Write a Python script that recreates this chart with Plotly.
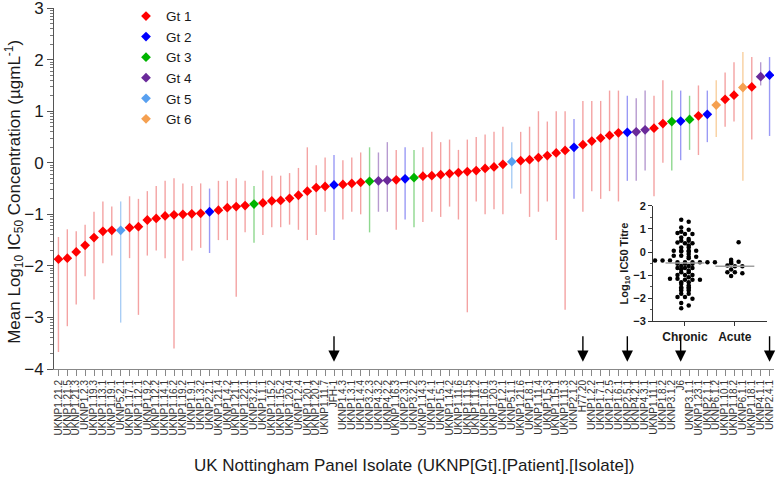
import plotly.graph_objects as go
import numpy as np

# ---------------- data ----------------
isolates = [
    "UKNP1.21.2", "UKNP1.21.5", "UKNP1.21.3", "UKNP1.2.3", "UKNP1.19.3", "UKNP1.13.1", "UKNP1.19.1",
    "UKNP5.2.1", "UKNP1.17.1", "UKNP1.12.1", "UKNP1.9.2", "UKNP1.12.2", "UKNP1.14.1", "UKNP1.16.2",
    "UKNP1.19.2", "UKNP1.9.1", "UKNP1.3.2", "UKNP2.2.1", "UKNP1.21.4", "UKNP1.4.2", "UKNP1.21.1",
    "UKNP1.22.1", "UKNP3.2.1", "UKNP1.1.1", "UKNP1.15.2", "UKNP1.15.2", "UKNP1.20.4", "UKNP1.2.4",
    "UKNP1.20.1", "UKNP1.20.2", "UKNP1.11.7", "JFH-1", "UKNP1.4.3", "UKNP1.3.1", "UKNP1.4.4",
    "UKNP3.2.3", "UKNP4.3.2", "UKNP4.2.2", "UKNP1.16.3", "UKNP2.3.1", "UKNP3.2.2", "UKNP1.14.3",
    "UKNP1.4.1", "UKNP1.5.1", "UKNP1.14.2", "UKNP1.11.6", "UKNP1.11.5", "UKNP1.11.2", "UKNP1.16.1",
    "UKNP1.20.3", "UKNP1.2.1", "UKNP5.1.1", "UKNP1.21.6", "UKNP1.8.1", "UKNP1.11.4", "UKNP1.5.3",
    "UKNP1.15.1", "UKNP1.11.3", "UKNP2.1.2", "H77.20", "UKNP1.2.2", "UKNP1.7.1", "UKNP1.2.5",
    "UKNP1.6.1", "UKNP2.5.1", "UKNP4.2.1", "UKNP4.3.1", "UKNP1.11.1", "UKNP1.8.2", "UKNP3.1.2",
    "J6", "UKNP3.1.1", "UKNP1.23.1", "UKNP2.1.1", "UKNP6.1.2", "UKNP1.10.1", "UKNP1.18.2",
    "UKNP6.1.1", "UKNP1.18.1", "UKNP4.1.1", "UKNP2.4.1",
]
genotype = [
    1, 1, 1, 1, 1, 1, 1, 5, 1, 1, 1, 1, 1, 1, 1, 1, 1, 2, 1, 1, 1, 1, 3, 1, 1, 1, 1, 1, 1, 1, 1,
    2, 1, 1, 1, 3, 4, 4, 1, 2, 3, 1, 1, 1, 1, 1, 1, 1, 1, 1, 1, 5, 1, 1, 1, 1, 1, 1, 2, 1, 1, 1,
    1, 1, 2, 4, 4, 1, 1, 3, 2, 3, 1, 2, 6, 1, 1, 6, 1, 4, 2,
]
mean_log_ic50 = [
    -1.87, -1.85, -1.73, -1.60, -1.45, -1.33, -1.31, -1.31, -1.26, -1.24, -1.11, -1.08, -1.03, -1.01,
    -1.00, -0.99, -0.98, -0.95, -0.92, -0.87, -0.85, -0.83, -0.80, -0.78, -0.74, -0.73, -0.69, -0.63,
    -0.55, -0.48, -0.46, -0.43, -0.42, -0.40, -0.38, -0.36, -0.35, -0.34, -0.33, -0.31, -0.29, -0.26,
    -0.25, -0.23, -0.21, -0.19, -0.17, -0.15, -0.11, -0.08, -0.03, 0.02, 0.04, 0.06, 0.10, 0.14,
    0.19, 0.24, 0.30, 0.35, 0.42, 0.48, 0.53, 0.58, 0.59, 0.60, 0.64, 0.67, 0.76, 0.80, 0.81,
    0.84, 0.91, 0.94, 1.12, 1.23, 1.31, 1.46, 1.47, 1.67, 1.70,
]
upper_log_ic50 = [
    -1.44, -1.29, -1.33, -1.20, -0.95, -0.75, -0.85, -0.75, -0.65, -0.70, -0.55, -0.45, -0.35, -0.30,
    -0.40, -0.45, -0.40, -0.50, -0.35, -0.35, -0.30, -0.35, -0.45, -0.15, -0.25, -0.25, -0.20, -0.10,
    0.30, -0.05, 0.10, 0.15, 0.05, 0.10, 0.20, 0.30, 0.20, 0.40, 0.25, 0.30, 0.25, 0.30,
    0.60, 0.40, 0.45, 0.25, 0.45, 0.50, 0.55, 0.60, 0.70, 0.40, 0.60, 0.70, 1.00, 0.80,
    1.00, 1.00, 0.85, 1.20, 1.20, 1.20, 1.40, 1.40, 1.30, 1.25, 1.40, 1.30, 1.60, 1.40, 1.40,
    1.30, 1.50, 1.40, 1.60, 1.75, 1.95, 2.15, 2.05, 1.95, 2.05,
]
lower_log_ic50 = [
    -3.67, -3.17, -2.75, -2.20, -2.65, -1.95, -1.80, -3.10, -1.85, -2.95, -1.80, -1.70, -1.85, -3.60,
    -1.90, -1.70, -1.65, -1.75, -1.50, -1.50, -2.60, -1.35, -1.55, -1.40, -1.25, -1.25, -1.20, -1.30,
    -1.50, -1.40, -0.95, -1.50, -1.10, -0.95, -1.00, -1.35, -0.95, -0.95, -1.30, -1.10, -1.25, -1.15,
    -0.95, -1.05, -0.85, -1.10, -2.90, -0.75, -1.00, -0.90, -1.00, -0.50, -0.60, -1.05, -0.95, -0.75,
    -1.50, -2.85, -0.70, -0.95, -0.55, -0.70, -0.55, -0.75, -0.35, -0.35, -0.15, -0.65, 0.00, -0.15, 0.05,
    0.25, 0.15, 0.40, 0.50, 0.70, 0.80, -0.35, 0.45, 1.50, 0.52,
]
arrow_isolates = ["JFH-1", "H77.20", "UKNP2.5.1", "J6", "UKNP2.4.1"]

gt_names = ["Gt 1", "Gt 2", "Gt 3", "Gt 4", "Gt 5", "Gt 6"]
gt_colors = ["#ff0000", "#0000ff", "#00b400", "#6a2a9a", "#58a0f0", "#f5a050"]
gt_bar_colors = ["#f4a3a3", "#9a9af5", "#8fd88f", "#b79ad0", "#a9cdf5", "#f8cf9f"]

y_tick_vals = [-4, -3, -2, -1, 0, 1, 2, 3]

# inset (Log10 IC50 titre by infection type)
inset_groups = ["Chronic", "Acute"]
chronic_titre = [
    1.40, 1.31, 1.06, 0.97, 0.88, 0.82, 0.78, 0.78, 0.63, 0.56, 0.49, 0.49, 0.41, 0.38, 0.38,
    0.28, 0.20, 0.20, 0.06, 0.06, 0.06, 0.06, 0.02, 0.02, -0.08, -0.16, -0.16, -0.20, -0.20,
    -0.27, -0.37, -0.37, -0.37, -0.44, -0.44, -0.44, -0.44, -0.44, -0.44, -0.51, -0.51, -0.51,
    -0.60, -0.60, -0.69, -0.69, -0.69, -0.75, -0.80, -0.87, -0.87, -0.99, -0.99, -0.99, -1.09,
    -1.16, -1.16, -1.20, -1.20, -1.20, -1.31, -1.31, -1.38, -1.45, -1.52, -1.52, -1.59, -1.59,
    -1.66, -1.66, -1.81, -1.81, -1.95, -1.95, -2.02, -2.21, -2.31, -2.43,
]
acute_titre = [0.42, -0.33, -0.42, -0.42, -0.48, -0.58, -0.62, -0.62, -0.76, -0.87, -0.87, -0.92, -1.04]
inset_y_ticks = [-3, -2, -1, 0, 1, 2]

# ---------------- figure ----------------
FONT = "Liberation Sans, Arial, sans-serif"
fig = go.Figure()

x_idx = np.arange(len(isolates))
mean_arr = np.array(mean_log_ic50)
up_arr = np.array(upper_log_ic50)
lo_arr = np.array(lower_log_ic50)
gt_arr = np.array(genotype)

for g in range(1, 7):
    m = gt_arr == g
    fig.add_trace(go.Scatter(
        x=x_idx[m], y=mean_arr[m], mode="markers", name=gt_names[g - 1],
        marker=dict(symbol="diamond", size=7.5, color=gt_colors[g - 1], line=dict(width=0)),
        error_y=dict(type="data", symmetric=False, array=up_arr[m] - mean_arr[m],
                     arrayminus=mean_arr[m] - lo_arr[m], color=gt_bar_colors[g - 1],
                     thickness=1.4, width=0),
        customdata=np.array(isolates)[m],
        hovertemplate="%{customdata}: %{y}<extra></extra>",
    ))

# inset beeswarm (offsets computed from the values, alternating sides)
def swarm(vals, center, bin_w=0.1, step=0.15):
    vals = np.array(vals)
    xs = np.zeros(len(vals))
    bins = np.round(vals / bin_w)
    for j, b in enumerate(np.unique(bins)):
        idx = np.where(bins == b)[0]
        n = len(idx)
        shift = 0.0 if n % 2 == 0 else (0.5 if j % 2 else -0.5) * (1 if n == 1 else 0)
        xs[idx] = center + (np.arange(n) - (n - 1) / 2 + shift) * step
    return xs

for gi, vals in enumerate([chronic_titre, acute_titre]):
    fig.add_trace(go.Scatter(
        x=swarm(vals, gi), y=vals, mode="markers", xaxis="x2", yaxis="y2", showlegend=False,
        marker=dict(symbol="circle", size=4.5, color="black"),
    ))
    med = float(np.median(vals))
    fig.add_trace(go.Scatter(
        x=[gi - 0.39, gi + 0.39], y=[med, med], mode="lines", xaxis="x2", yaxis="y2",
        showlegend=False, line=dict(color="#a0a0a0", width=1.5), hoverinfo="skip",
    ))

# arrows pointing to reference isolates
for name in arrow_isolates:
    fig.add_annotation(
        x=isolates.index(name), y=-3.86, xref="x", yref="y", text="", showarrow=True,
        ax=0, ay=-27, arrowhead=2, arrowsize=1.6, arrowwidth=1.4, arrowcolor="black",
    )

# axis titles as annotations
fig.add_annotation(
    text="Mean Log<sub>10</sub> IC<sub>50</sub> Concentration (µgmL<sup>-1</sup>)",
    xref="paper", yref="paper", x=-0.056, y=0.49, textangle=-90, showarrow=False,
    font=dict(size=17, family=FONT, color="#1a1a1a"), xanchor="center", yanchor="middle",
)
fig.add_annotation(
    text="UK Nottingham Panel Isolate (UKNP[Gt].[Patient].[Isolate])",
    xref="paper", yref="paper", x=0.5, y=-0.267, showarrow=False,
    font=dict(size=17, family=FONT, color="#1a1a1a"), xanchor="center", yanchor="middle",
)

# log-like minor tick positions between integers
minor_vals = [i + np.log10(k) for i in range(-4, 3) for k in range(2, 10)]

fig.update_layout(
    width=777, height=480,
    margin=dict(l=54, r=3, t=8, b=111, autoexpand=False),
    paper_bgcolor="white", plot_bgcolor="white",
    font=dict(family=FONT, color="#1a1a1a"),
    showlegend=True,
    legend=dict(x=0.1, y=1.02, xanchor="left", yanchor="top", bgcolor="rgba(0,0,0,0)",
                font=dict(size=13.5, family=FONT), tracegroupgap=0, itemwidth=30),
    xaxis=dict(
        range=[-0.5, len(isolates) - 0.5], tickmode="array", tickvals=list(x_idx), ticktext=isolates,
        tickangle=-90, tickfont=dict(size=10, family=FONT, color="#333"), automargin=False,
        ticklabeloverflow="allow",
        showgrid=False, zeroline=False, showline=True, linecolor="#888", linewidth=1,
        ticks="outside", ticklen=6, tickcolor="#888", anchor="y",
    ),
    yaxis=dict(
        range=[-4, 3.002], tickmode="array", tickvals=y_tick_vals, automargin=False,
        ticklabeloverflow="allow",
        tickfont=dict(size=17, family=FONT, color="#1a1a1a"),
        showgrid=False, zeroline=False, showline=True, linecolor="#555", linewidth=1,
        ticks="outside", ticklen=6, tickcolor="#555",
        minor=dict(tickmode="array", tickvals=minor_vals, ticks="outside", ticklen=3,
                   tickcolor="#777", showgrid=False),
    ),
    xaxis2=dict(
        domain=[0.832, 0.99], anchor="y2", range=[-0.64, 1.64], tickmode="array",
        tickvals=[0, 1], ticktext=inset_groups, automargin=False,
        tickfont=dict(size=12, family=FONT, color="#1a1a1a", weight="bold"),
        showgrid=False, zeroline=False, showline=True, linecolor="#333", linewidth=1,
        ticks="outside", ticklen=4, tickcolor="#333",
    ),
    yaxis2=dict(
        domain=[0.132, 0.452], anchor="x2", range=[-3, 2], tickmode="array",
        tickvals=inset_y_ticks, automargin=False,
        tickfont=dict(size=11, family=FONT, color="#1a1a1a", weight="bold"),
        title=dict(text="Log<sub>10</sub> IC50 Titre", standoff=2,
                   font=dict(size=11, family=FONT, color="#1a1a1a", weight="bold")),
        showgrid=False, zeroline=False, showline=True, linecolor="#333", linewidth=1,
        ticks="outside", ticklen=4, tickcolor="#333",
        minor=dict(dtick=0.5, ticks="outside", ticklen=2, tickcolor="#555", showgrid=False),
    ),
)

fig.write_html("out.html", post_script="document.body.style.margin='0px';",
               config={"displayModeBar": False})
